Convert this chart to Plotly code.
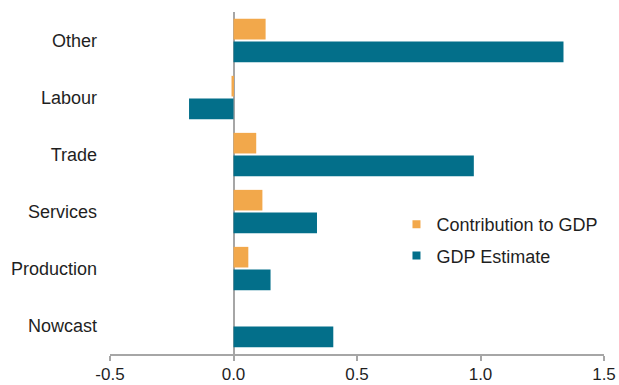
import plotly.graph_objects as go

categories = ["Nowcast", "Production", "Services", "Trade", "Labour", "Other"]
contribution = [0, 0.06, 0.117, 0.092, -0.008, 0.13]
gdp_estimate = [0.404, 0.15, 0.338, 0.973, -0.18, 1.336]
x_ticks = [-0.5, 0.0, 0.5, 1.0, 1.5]
x_tick_labels = ["-0.5", "0.0", "0.5", "1.0", "1.5"]

ORANGE = "#F2A84B"
TEAL = "#036F8A"
FONT = "Liberation Sans, Arial, sans-serif"
TXT = "#1f1f1f"
FS = 18

fig = go.Figure()
fig.add_trace(go.Bar(y=categories, x=gdp_estimate, orientation="h", name="GDP Estimate",
                     marker=dict(color=TEAL, line=dict(width=0)), showlegend=False))
fig.add_trace(go.Bar(y=categories, x=contribution, orientation="h", name="Contribution to GDP",
                     marker=dict(color=ORANGE, line=dict(width=0)), showlegend=False))
# legend proxies
fig.add_trace(go.Scatter(x=[None], y=[None], mode="markers", name="Contribution to GDP",
                         marker=dict(symbol="square", size=8, color=ORANGE), legendgroup="a"))
fig.add_trace(go.Scatter(x=[None], y=[None], mode="markers", name="GDP Estimate",
                         marker=dict(symbol="square", size=8, color=TEAL), legendgroup="b"))

fig.update_layout(
    width=619, height=385,
    margin=dict(l=110, r=15, t=12, b=31, autoexpand=False),
    paper_bgcolor="white", plot_bgcolor="white",
    barmode="group", bargap=0.205, bargroupgap=0.09,
    font=dict(family=FONT, size=FS, color=TXT),
    showlegend=True,
    legend=dict(x=(436 - 110) / 494 - 0.08, y=(354 - 206) / 342, xanchor="left", yanchor="top",
                traceorder="grouped", tracegroupgap=5,
                font=dict(family=FONT, size=FS, color=TXT),
                bgcolor="rgba(0,0,0,0)", itemwidth=30),
    xaxis=dict(range=[-0.5, 1.5], tickvals=x_ticks, ticktext=x_tick_labels,
               showgrid=False, zeroline=True, zerolinecolor="#A6A6A6", zerolinewidth=2,
               showline=True, linecolor="#A6A6A6", linewidth=2, automargin=False,
               ticks="outside", ticklen=5, tickwidth=2, tickcolor="#A6A6A6",
               ticklabelstandoff=-1,
               tickfont=dict(family=FONT, size=17, color=TXT), fixedrange=True),
    yaxis=dict(categoryorder="array", categoryarray=categories, automargin=False,
               showgrid=False, zeroline=False, showline=False, ticks="",
               ticklabelstandoff=12, tickfont=dict(family=FONT, size=FS, color=TXT)),
)

fig.write_html("out.html")
